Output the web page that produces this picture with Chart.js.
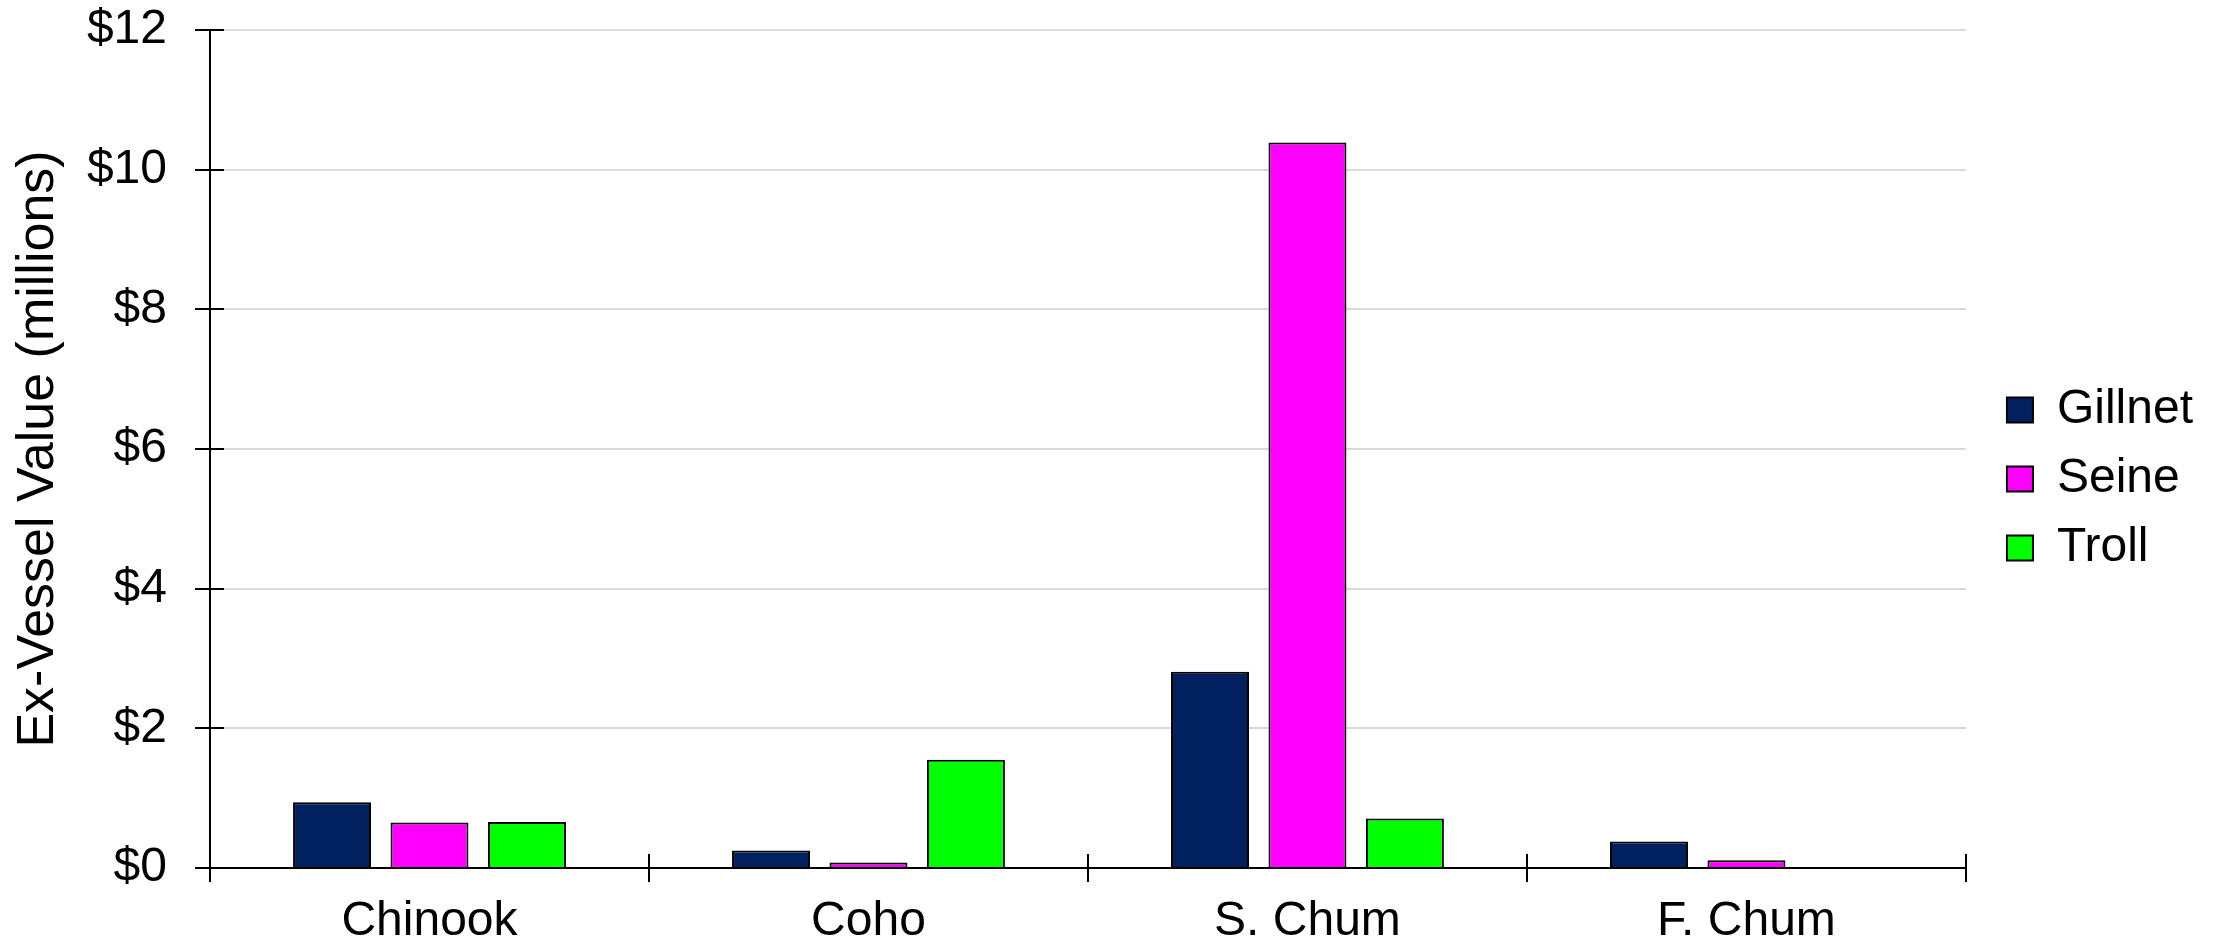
<!DOCTYPE html>
<html>
<head>
<meta charset="utf-8">
<title>Ex-Vessel Value by Gear</title>
<script src="https://cdn.jsdelivr.net/npm/chart.js@4/dist/chart.umd.min.js"></script>
<style>
  html, body { margin: 0; padding: 0; background: #ffffff; }
  #wrap { width: 2223px; height: 944px; position: relative; }
</style>
</head>
<body>
<div id="wrap"><canvas id="chart"></canvas></div>
<script>
// Chart data (ex-vessel value, millions of dollars)
const categories = ["Chinook", "Coho", "S. Chum", "F. Chum"]
const gillnetValues = [0.94, 0.25, 2.81, 0.38]
const seineValues = [0.65, 0.08, 10.39, 0.11]
const trollValues = [0.66, 1.55, 0.71, null]
const yTickValues = [0, 2, 4, 6, 8, 10, 12]

const FONT = "'Liberation Sans', Arial, sans-serif"

/**
 * Draws the small tick marks that cross both axes
 */
const crossTicks = {
  id: "crossTicks",
  afterDraw(chart) {
    const { ctx, scales } = chart
    const x = scales.x
    const y = scales.y
    ctx.save()
    ctx.strokeStyle = "#000000"
    ctx.lineWidth = 2

    // y axis ticks
    yTickValues.forEach((v) => {
      const py = Math.round(y.getPixelForValue(v))
      ctx.beginPath()
      ctx.moveTo(x.left - 15, py)
      ctx.lineTo(x.left + 14, py)
      ctx.stroke()
    })

    // x axis ticks at category boundaries
    for (let i = 0; i <= categories.length; i++) {
      const px = Math.round(x.getPixelForValue(i - 0.5))
      ctx.beginPath()
      ctx.moveTo(px, y.bottom - 14)
      ctx.lineTo(px, y.bottom + 14)
      ctx.stroke()
    }
    ctx.restore()
  },
}

const barStyle = {
  borderColor: "#000000",
  borderWidth: 2,
  categoryPercentage: 0.666,
  barPercentage: 0.8,
}

new Chart(document.getElementById("chart"), {
  type: "bar",
  data: {
    labels: categories,
    datasets: [
      { label: "Gillnet", data: gillnetValues, backgroundColor: "#00205f", ...barStyle },
      { label: "Seine", data: seineValues, backgroundColor: "#ff00ff", ...barStyle },
      { label: "Troll", data: trollValues, backgroundColor: "#00ff00", ...barStyle },
    ],
  },
  options: {
    responsive: true,
    maintainAspectRatio: false,
    animation: false,
    devicePixelRatio: 1,
    // top padding is for the legend; the plot top comes from the y axis padding
    layout: { padding: { top: 14, right: 20, bottom: 0, left: 0 } },
    plugins: {
      tooltip: { enabled: false },
      legend: {
        position: "right",
        labels: {
          boxWidth: 26,
          boxHeight: 25,
          padding: 21,
          color: "#000000",
          font: { family: FONT, size: 48 },
        },
      },
    },
    scales: {
      x: {
        offset: true,
        grid: { display: false, drawTicks: false },
        border: { display: true, color: "#000000", width: 2 },
        ticks: { color: "#000000", padding: 25, font: { family: FONT, size: 48 } },
        afterFit(scale) {
          scale.height = 76
          scale.paddingLeft = 0
          scale.paddingRight = 0
        },
      },
      y: {
        min: 0,
        max: 12,
        afterBuildTicks(scale) {
          scale.ticks = yTickValues.map((v) => ({ value: v }))
        },
        grid: { color: "#d9d9d9", lineWidth: 2, drawTicks: false },
        border: { display: true, color: "#000000", width: 2 },
        ticks: {
          color: "#000000",
          padding: 43,
          font: { family: FONT, size: 48 },
          callback: (v) => "$" + v,
        },
        title: {
          display: true,
          text: "Ex-Vessel Value (millions)",
          color: "#000000",
          padding: { top: 7, bottom: 0 },
          font: { family: FONT, size: 52 },
        },
        afterFit(scale) {
          scale.width = 210
          scale.paddingTop = 30
          scale.paddingBottom = 0
        },
      },
      // spacer between plot and legend
      gap: {
        position: "right",
        display: true,
        grid: { display: false, drawTicks: false },
        border: { display: false },
        ticks: { display: false },
        afterFit(scale) {
          scale.width = 20
          scale.paddingTop = 0
          scale.paddingBottom = 0
        },
      },
    },
  },
  plugins: [crossTicks],
})
</script>
</body>
</html>
